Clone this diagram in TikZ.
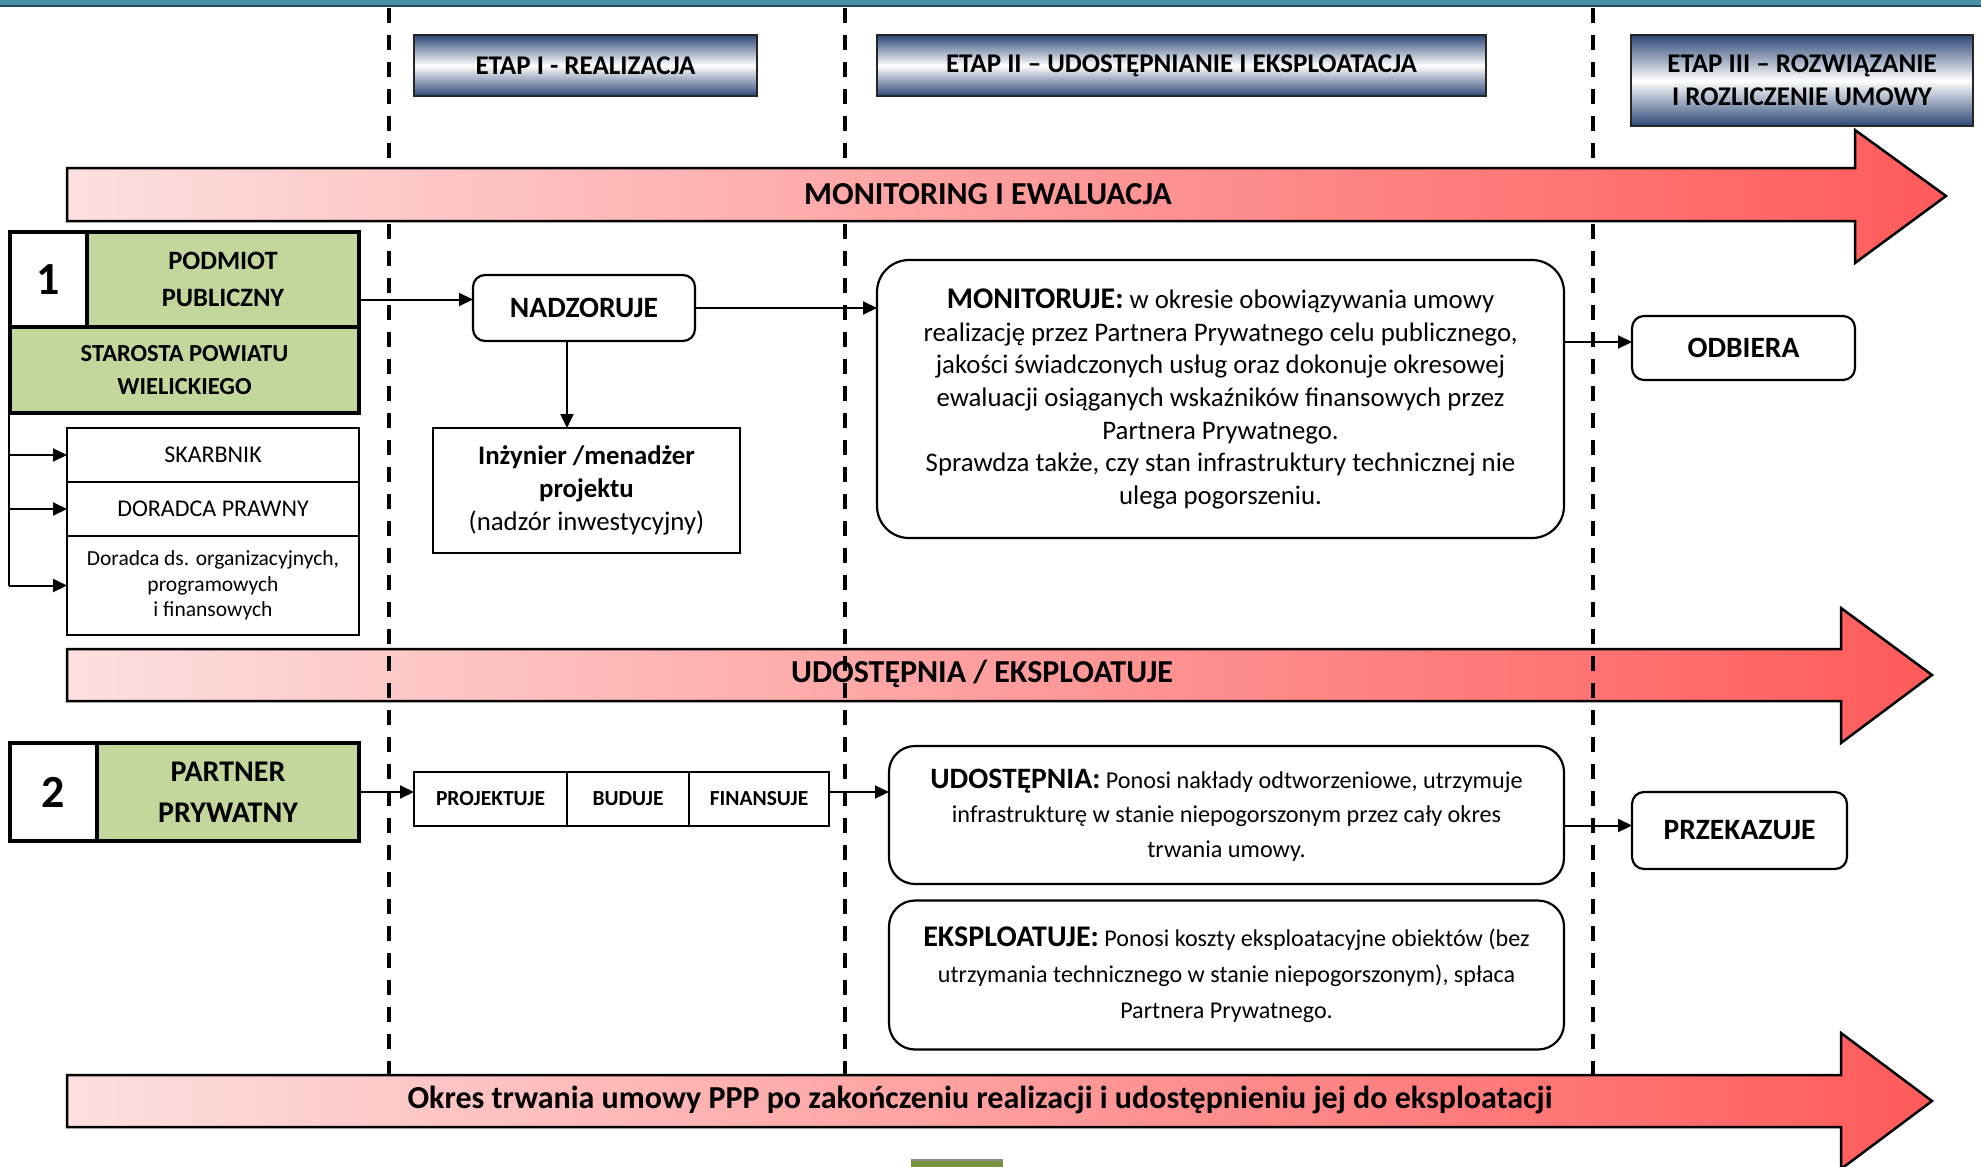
\documentclass[tikz,border=0pt]{standalone}
\usepackage{fontspec}
\setmainfont{Carlito}
\usetikzlibrary{arrows.meta}
\definecolor{bandteal}{HTML}{4A90A4}
\definecolor{bandedge}{HTML}{1F4F5F}
\definecolor{navy}{HTML}{2E4878}
\definecolor{olive}{HTML}{C3D69B}
\definecolor{olivedark}{HTML}{77933C}
\definecolor{pinklight}{HTML}{FDE0E0}
\definecolor{redstrong}{HTML}{FF5A5A}
\newcommand{\fs}[2]{\fontsize{#1}{#2}\selectfont}
\begin{document}
\begin{tikzpicture}[x=1pt,y=-1pt,
  every node/.style={inner sep=0pt, outer sep=0pt, align=center},
  conn/.style={line width=2pt, -{Triangle[length=14pt,width=13pt]}},
  plain/.style={line width=2pt},
  divider/.style={line width=3.5pt, dash pattern=on 15pt off 12pt},
  etapbox/.style={draw=black!85, line width=2pt, top color=navy, bottom color=navy, middle color=white,
    font=\fs{27}{33}\bfseries},
  numbox/.style={draw, line width=4.5pt, fill=white, font=\fs{46}{50}\bfseries},
  greenbox/.style={draw, line width=4.5pt, fill=olive},
  subbox/.style={draw, line width=2pt, fill=white},
  roundbox/.style={draw, line width=2.2pt, fill=white, rounded corners=12pt},
  biground/.style={draw, line width=2.2pt, fill=white, rounded corners=32pt},
  bannertext/.style={font=\fs{32}{36}\bfseries},
  banner/.style={left color=pinklight, right color=redstrong, draw=black, line width=2.5pt}
]
\useasboundingbox (0,0) rectangle (1981,1167);

% top band
\fill[bandteal] (0,0) rectangle (1981,6);
\draw[bandedge, line width=1.5pt] (0,6) -- (1981,6);

% stage headers
\node[etapbox, minimum width=343pt, minimum height=61pt] (etap1) at (585.5,65.5) {ETAP I - REALIZACJA};
\node[etapbox, minimum width=609pt, minimum height=61pt] (etap2) at (1181.5,65.5) {ETAP II -- UDOSTĘPNIANIE I EKSPLOATACJA};
\node[etapbox, minimum width=342pt, minimum height=91pt] (etap3) at (1802,80.5) {ETAP III -- ROZWIĄZANIE\\I ROZLICZENIE UMOWY};

% stage dividers (run under the top banner, over the middle one)
\coordinate (d1t) at (389,8);   \coordinate (d1b) at (389,1075);
\coordinate (d2t) at (845,8);   \coordinate (d2b) at (845,1075);
\coordinate (d3t) at (1593,8);  \coordinate (d3b) at (1593,1075);

% middle banner
\shadedraw[banner] (67,649) -- (1841,649) -- (1841,608) -- (1932,675) -- (1841,743) -- (1841,701) -- (67,701) -- cycle;
\node[bannertext] (udbanner) at (982,674) {UDOSTĘPNIA / EKSPLOATUJE};

\draw[divider] (d1t) -- (d1b);
\draw[divider] (d2t) -- (d2b);
\draw[divider] (d3t) -- (d3b);

% top banner
\shadedraw[banner] (67,168) -- (1855,168) -- (1855,130) -- (1946,196) -- (1855,263) -- (1855,221) -- (67,221) -- cycle;
\node[bannertext] (monbanner) at (988,194) {MONITORING I EWALUACJA};

% bottom banner
\shadedraw[banner] (67,1075) -- (1841,1075) -- (1841,1033) -- (1932,1101) -- (1841,1169) -- (1841,1127) -- (67,1127) -- cycle;
\node[bannertext] (okbanner) at (980,1100) {Okres trwania umowy PPP po zakończeniu realizacji i udostępnieniu jej do eksploatacji};

% small block under the bottom banner
\fill[olivedark] (911,1160) rectangle (1003,1168);
\draw[black!45, line width=1.5pt] (911,1160) -- (1003,1160);

% party 1: public entity
\node[greenbox, minimum width=349pt, minimum height=86pt, font=\fs{24.5}{33}\bfseries] (staro) at (184.5,370) {STAROSTA POWIATU\\WIELICKIEGO};
\node[numbox, minimum width=77pt, minimum height=95pt] (num1) at (48.5,279.5) {1};
\node[greenbox, minimum width=272pt, minimum height=95pt, font=\fs{26.5}{37}\bfseries] (podmiot) at (223,279.5) {PODMIOT\\PUBLICZNY};

\node[subbox, minimum width=292pt, minimum height=54pt, font=\fs{24}{27}] (skarb) at (213,455) {SKARBNIK};
\node[subbox, minimum width=292pt, minimum height=54pt, font=\fs{24}{27}] (prawny) at (213,509) {DORADCA PRAWNY};
\node[subbox, minimum width=292pt, minimum height=99pt, font=\fs{21.5}{25.5}] (organ) at (213,585.5) {Doradca ds. organizacyjnych,\\programowych\\i finansowych};

\coordinate (brtop) at (9,413);
\draw[plain] (brtop) -- (brtop |- organ.west);
\draw[conn] (brtop |- skarb.west) -- (skarb.west);
\draw[conn] (brtop |- prawny.west) -- (prawny.west);
\draw[conn] (brtop |- organ.west) -- (organ.west);

% supervision chain
\node[roundbox, minimum width=222pt, minimum height=66pt, font=\fs{29.5}{34}\bfseries] (nadz) at (584,308) {NADZORUJE};
\node[subbox, minimum width=307pt, minimum height=125pt, font=\fs{26.8}{33}] (inz) at (586.5,490.5) {\textbf{Inżynier /menadżer}\\\textbf{projektu}\\(nadzór inwestycyjny)};

\node[biground, minimum width=687pt, minimum height=278pt, font=\fs{26.8}{32.6}] (monit) at (1220.5,399)
 {{\fs{30}{32.6}\bfseries MONITORUJE:} w okresie obowiązywania umowy\\
  realizację przez Partnera Prywatnego celu publicznego,\\
  jakości świadczonych usług oraz dokonuje okresowej\\
  ewaluacji osiąganych wskaźników finansowych przez\\
  Partnera Prywatnego.\\
  Sprawdza także, czy stan infrastruktury technicznej nie\\
  ulega pogorszeniu.};

\node[roundbox, minimum width=223pt, minimum height=64pt, font=\fs{29.5}{34}\bfseries] (odb) at (1743.5,348) {ODBIERA};

\draw[conn] ([yshift=-20pt]podmiot.east) -- ([yshift=-20pt]podmiot.east -| nadz.west);
\draw[conn] (nadz.east) -- (nadz.east -| monit.west);
\draw[conn] ([xshift=-17pt]nadz.south) -- ([xshift=-17pt]nadz.south |- inz.north);
\draw[conn] ([yshift=6pt]odb.west -| monit.east) -- ([yshift=6pt]odb.west);

% party 2: private partner
\node[numbox, minimum width=87pt, minimum height=98pt] (num2) at (53.5,792) {2};
\node[greenbox, minimum width=262pt, minimum height=98pt, font=\fs{30}{41}\bfseries] (partner) at (228,792) {PARTNER\\PRYWATNY};

\node[subbox, minimum width=153pt, minimum height=54pt, font=\fs{21.5}{24}\bfseries] (proj) at (490.5,799) {PROJEKTUJE};
\node[subbox, minimum width=122pt, minimum height=54pt, font=\fs{21.5}{24}\bfseries] (bud) at (628,799) {BUDUJE};
\node[subbox, minimum width=140pt, minimum height=54pt, font=\fs{21.5}{24}\bfseries] (fin) at (759,799) {FINANSUJE};

\node[draw, line width=2.2pt, fill=white, rounded corners=26pt, minimum width=675pt, minimum height=138pt, font=\fs{24.2}{34.5}] (udost) at (1226.5,815)
 {{\fs{29.6}{34.5}\bfseries UDOSTĘPNIA:} Ponosi nakłady odtworzeniowe, utrzymuje\\
  infrastrukturę w stanie niepogorszonym przez cały okres\\
  trwania umowy.};
\node[draw, line width=2.2pt, fill=white, rounded corners=26pt, minimum width=675pt, minimum height=149pt, font=\fs{24.1}{36}] (ekspl) at (1226.5,975)
 {{\fs{30}{36}\bfseries EKSPLOATUJE:} Ponosi koszty eksploatacyjne obiektów (bez\\
  utrzymania technicznego w stanie niepogorszonym), spłaca\\
  Partnera Prywatnego.};

\node[roundbox, minimum width=215pt, minimum height=77pt, font=\fs{29.5}{34}\bfseries] (przek) at (1739.5,830.5) {PRZEKAZUJE};

\draw[conn] (partner.east) -- (partner.east -| proj.west);
\draw[conn] ([yshift=7pt]fin.east) -- ([yshift=7pt]fin.east -| udost.west);
\draw[conn] ([yshift=5pt]przek.west -| udost.east) -- ([yshift=5pt]przek.west);

\end{tikzpicture}
\end{document}
